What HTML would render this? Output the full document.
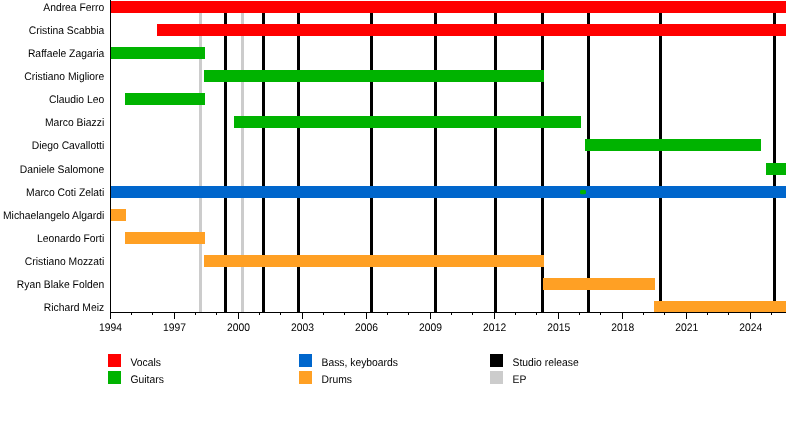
<!DOCTYPE html>
<html><head><meta charset="utf-8"><style>svg{will-change:transform;text-rendering:geometricPrecision}html,body{margin:0;padding:0;background:#fff;width:800px;height:432px;overflow:hidden}</style></head><body>
<svg width="800" height="432" viewBox="0 0 800 432" style="display:block">
<rect width="800" height="432" fill="#fff"/>
<rect x="199" y="1" width="3" height="311" fill="#cccccc"/>
<rect x="241" y="1" width="3" height="311" fill="#cccccc"/>
<rect x="224" y="1" width="3" height="311" fill="#000000"/>
<rect x="262" y="1" width="3" height="311" fill="#000000"/>
<rect x="297" y="1" width="3" height="311" fill="#000000"/>
<rect x="370" y="1" width="3" height="311" fill="#000000"/>
<rect x="434" y="1" width="3" height="311" fill="#000000"/>
<rect x="494" y="1" width="3" height="311" fill="#000000"/>
<rect x="541" y="1" width="3" height="311" fill="#000000"/>
<rect x="587" y="1" width="3" height="311" fill="#000000"/>
<rect x="659" y="1" width="3" height="311" fill="#000000"/>
<rect x="773" y="1" width="3" height="311" fill="#000000"/>
<rect x="110" y="1" width="676" height="12" fill="#ff0000"/>
<rect x="157" y="24" width="629" height="12" fill="#ff0000"/>
<rect x="110" y="47" width="95" height="12" fill="#00b300"/>
<rect x="204" y="70" width="340" height="12" fill="#00b300"/>
<rect x="125" y="93" width="80" height="12" fill="#00b300"/>
<rect x="234" y="116" width="347" height="12" fill="#00b300"/>
<rect x="585" y="139" width="176" height="12" fill="#00b300"/>
<rect x="766" y="163" width="20" height="12" fill="#00b300"/>
<rect x="110" y="186" width="676" height="12" fill="#0066cc"/>
<rect x="110" y="209" width="16" height="12" fill="#ffa024"/>
<rect x="125" y="232" width="80" height="12" fill="#ffa024"/>
<rect x="204" y="255" width="340" height="12" fill="#ffa024"/>
<rect x="543" y="278" width="112" height="12" fill="#ffa024"/>
<rect x="654" y="301" width="132" height="12" fill="#ffa024"/>
<rect x="580" y="189.8" width="6" height="4.4" rx="1.5" fill="#00b300"/>
<rect x="110" y="0" width="1" height="319" fill="#000"/>
<rect x="110" y="312" width="676" height="1" fill="#000"/>
<rect x="110" y="312" width="1" height="7" fill="#000"/>
<rect x="131" y="312" width="1" height="3" fill="#000"/>
<rect x="152" y="312" width="1" height="3" fill="#000"/>
<rect x="174" y="312" width="1" height="7" fill="#000"/>
<rect x="195" y="312" width="1" height="3" fill="#000"/>
<rect x="216" y="312" width="1" height="3" fill="#000"/>
<rect x="238" y="312" width="1" height="7" fill="#000"/>
<rect x="259" y="312" width="1" height="3" fill="#000"/>
<rect x="280" y="312" width="1" height="3" fill="#000"/>
<rect x="302" y="312" width="1" height="7" fill="#000"/>
<rect x="323" y="312" width="1" height="3" fill="#000"/>
<rect x="344" y="312" width="1" height="3" fill="#000"/>
<rect x="366" y="312" width="1" height="7" fill="#000"/>
<rect x="387" y="312" width="1" height="3" fill="#000"/>
<rect x="408" y="312" width="1" height="3" fill="#000"/>
<rect x="430" y="312" width="1" height="7" fill="#000"/>
<rect x="451" y="312" width="1" height="3" fill="#000"/>
<rect x="472" y="312" width="1" height="3" fill="#000"/>
<rect x="494" y="312" width="1" height="7" fill="#000"/>
<rect x="515" y="312" width="1" height="3" fill="#000"/>
<rect x="536" y="312" width="1" height="3" fill="#000"/>
<rect x="558" y="312" width="1" height="7" fill="#000"/>
<rect x="579" y="312" width="1" height="3" fill="#000"/>
<rect x="600" y="312" width="1" height="3" fill="#000"/>
<rect x="622" y="312" width="1" height="7" fill="#000"/>
<rect x="643" y="312" width="1" height="3" fill="#000"/>
<rect x="664" y="312" width="1" height="3" fill="#000"/>
<rect x="686" y="312" width="1" height="7" fill="#000"/>
<rect x="707" y="312" width="1" height="3" fill="#000"/>
<rect x="728" y="312" width="1" height="3" fill="#000"/>
<rect x="750" y="312" width="1" height="7" fill="#000"/>
<rect x="771" y="312" width="1" height="3" fill="#000"/>
<g font-family="Liberation Sans, sans-serif" font-size="10.35" letter-spacing="0" fill="#000">
<text transform="translate(104.20 11.00) scale(1 1.06)" text-anchor="end">Andrea Ferro</text>
<text transform="translate(104.20 34.00) scale(1 1.06)" text-anchor="end">Cristina Scabbia</text>
<text transform="translate(104.20 57.00) scale(1 1.06)" text-anchor="end">Raffaele Zagaria</text>
<text transform="translate(104.20 80.00) scale(1 1.06)" text-anchor="end">Cristiano Migliore</text>
<text transform="translate(104.20 103.00) scale(1 1.06)" text-anchor="end">Claudio Leo</text>
<text transform="translate(104.20 126.00) scale(1 1.06)" text-anchor="end">Marco Biazzi</text>
<text transform="translate(104.20 149.00) scale(1 1.06)" text-anchor="end">Diego Cavallotti</text>
<text transform="translate(104.20 173.00) scale(1 1.06)" text-anchor="end">Daniele Salomone</text>
<text transform="translate(104.20 196.00) scale(1 1.06)" text-anchor="end">Marco Coti Zelati</text>
<text transform="translate(104.20 219.00) scale(1 1.06)" text-anchor="end">Michaelangelo Algardi</text>
<text transform="translate(104.20 242.00) scale(1 1.06)" text-anchor="end">Leonardo Forti</text>
<text transform="translate(104.20 265.00) scale(1 1.06)" text-anchor="end">Cristiano Mozzati</text>
<text transform="translate(104.20 288.00) scale(1 1.06)" text-anchor="end">Ryan Blake Folden</text>
<text transform="translate(104.20 311.00) scale(1 1.06)" text-anchor="end">Richard Meiz</text>
<text transform="translate(110.50 330.80) scale(1 1.06)" text-anchor="middle">1994</text>
<text transform="translate(174.52 330.80) scale(1 1.06)" text-anchor="middle">1997</text>
<text transform="translate(238.54 330.80) scale(1 1.06)" text-anchor="middle">2000</text>
<text transform="translate(302.56 330.80) scale(1 1.06)" text-anchor="middle">2003</text>
<text transform="translate(366.58 330.80) scale(1 1.06)" text-anchor="middle">2006</text>
<text transform="translate(430.60 330.80) scale(1 1.06)" text-anchor="middle">2009</text>
<text transform="translate(494.62 330.80) scale(1 1.06)" text-anchor="middle">2012</text>
<text transform="translate(558.64 330.80) scale(1 1.06)" text-anchor="middle">2015</text>
<text transform="translate(622.66 330.80) scale(1 1.06)" text-anchor="middle">2018</text>
<text transform="translate(686.68 330.80) scale(1 1.06)" text-anchor="middle">2021</text>
<text transform="translate(750.70 330.80) scale(1 1.06)" text-anchor="middle">2024</text>
<rect x="108" y="354" width="13" height="13" fill="#ff0000"/>
<text transform="translate(130.50 366.00) scale(1 1.06)">Vocals</text>
<rect x="108" y="371" width="13" height="13" fill="#00b300"/>
<text transform="translate(130.50 383.00) scale(1 1.06)">Guitars</text>
<rect x="299" y="354" width="13" height="13" fill="#0066cc"/>
<text transform="translate(321.50 366.00) scale(1 1.06)">Bass, keyboards</text>
<rect x="299" y="371" width="13" height="13" fill="#ffa024"/>
<text transform="translate(321.50 383.00) scale(1 1.06)">Drums</text>
<rect x="490" y="354" width="13" height="13" fill="#000000"/>
<text transform="translate(512.50 366.00) scale(1 1.06)">Studio release</text>
<rect x="490" y="371" width="13" height="13" fill="#cccccc"/>
<text transform="translate(512.50 383.00) scale(1 1.06)">EP</text>
</g>
</svg>
</body></html>
